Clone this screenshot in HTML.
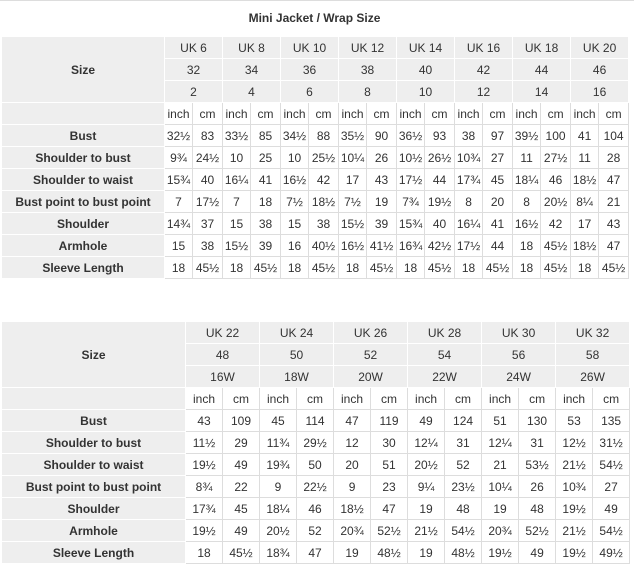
<!DOCTYPE html>
<html><head><meta charset="utf-8"><style>
body{margin:0;background:#fff;font-family:"Liberation Sans",Arial,sans-serif;color:#333;font-size:12px;width:634px;height:568px;position:relative;overflow:hidden}
.topline{position:absolute;left:0;top:0;width:634px;height:1px;background:#ddd}
.title{position:absolute;left:0;top:11px;width:629px;text-align:center;font-weight:bold;font-size:12px}
table{position:absolute;left:1px;border-collapse:collapse;table-layout:fixed}
td{border:1px solid #ddd;padding:0;text-align:center;height:21px;line-height:20px;white-space:nowrap;overflow:hidden;background:#fff}
td.h{background:#eee;border-color:#fff}
td.l{background:#eee;font-weight:bold;border-color:#fff}
#t1{top:36px;width:628px}
#t2{top:321px;width:628px}
</style></head><body>
<div class="topline"></div>
<div class="title">Mini Jacket / Wrap Size</div>
<table id="t1">
<colgroup><col style="width:163px"><col style="width:28px"><col style="width:30px"><col style="width:28px"><col style="width:30px"><col style="width:28px"><col style="width:30px"><col style="width:28px"><col style="width:30px"><col style="width:28px"><col style="width:30px"><col style="width:28px"><col style="width:30px"><col style="width:28px"><col style="width:30px"><col style="width:28px"><col style="width:30px"></colgroup>
<tr><td class="l" rowspan="3">Size</td><td class="h" colspan="2">UK 6</td><td class="h" colspan="2">UK 8</td><td class="h" colspan="2">UK 10</td><td class="h" colspan="2">UK 12</td><td class="h" colspan="2">UK 14</td><td class="h" colspan="2">UK 16</td><td class="h" colspan="2">UK 18</td><td class="h" colspan="2">UK 20</td></tr>
<tr><td class="h" colspan="2">32</td><td class="h" colspan="2">34</td><td class="h" colspan="2">36</td><td class="h" colspan="2">38</td><td class="h" colspan="2">40</td><td class="h" colspan="2">42</td><td class="h" colspan="2">44</td><td class="h" colspan="2">46</td></tr>
<tr><td class="h" colspan="2">2</td><td class="h" colspan="2">4</td><td class="h" colspan="2">6</td><td class="h" colspan="2">8</td><td class="h" colspan="2">10</td><td class="h" colspan="2">12</td><td class="h" colspan="2">14</td><td class="h" colspan="2">16</td></tr>
<tr><td class="l"></td><td>inch</td><td>cm</td><td>inch</td><td>cm</td><td>inch</td><td>cm</td><td>inch</td><td>cm</td><td>inch</td><td>cm</td><td>inch</td><td>cm</td><td>inch</td><td>cm</td><td>inch</td><td>cm</td></tr>
<tr><td class="l">Bust</td><td>32½</td><td>83</td><td>33½</td><td>85</td><td>34½</td><td>88</td><td>35½</td><td>90</td><td>36½</td><td>93</td><td>38</td><td>97</td><td>39½</td><td>100</td><td>41</td><td>104</td></tr>
<tr><td class="l">Shoulder to bust</td><td>9¾</td><td>24½</td><td>10</td><td>25</td><td>10</td><td>25½</td><td>10¼</td><td>26</td><td>10½</td><td>26½</td><td>10¾</td><td>27</td><td>11</td><td>27½</td><td>11</td><td>28</td></tr>
<tr><td class="l">Shoulder to waist</td><td>15¾</td><td>40</td><td>16¼</td><td>41</td><td>16½</td><td>42</td><td>17</td><td>43</td><td>17½</td><td>44</td><td>17¾</td><td>45</td><td>18¼</td><td>46</td><td>18½</td><td>47</td></tr>
<tr><td class="l">Bust point to bust point</td><td>7</td><td>17½</td><td>7</td><td>18</td><td>7½</td><td>18½</td><td>7½</td><td>19</td><td>7¾</td><td>19½</td><td>8</td><td>20</td><td>8</td><td>20½</td><td>8¼</td><td>21</td></tr>
<tr><td class="l">Shoulder</td><td>14¾</td><td>37</td><td>15</td><td>38</td><td>15</td><td>38</td><td>15½</td><td>39</td><td>15¾</td><td>40</td><td>16¼</td><td>41</td><td>16½</td><td>42</td><td>17</td><td>43</td></tr>
<tr><td class="l">Armhole</td><td>15</td><td>38</td><td>15½</td><td>39</td><td>16</td><td>40½</td><td>16½</td><td>41½</td><td>16¾</td><td>42½</td><td>17½</td><td>44</td><td>18</td><td>45½</td><td>18½</td><td>47</td></tr>
<tr><td class="l">Sleeve Length</td><td>18</td><td>45½</td><td>18</td><td>45½</td><td>18</td><td>45½</td><td>18</td><td>45½</td><td>18</td><td>45½</td><td>18</td><td>45½</td><td>18</td><td>45½</td><td>18</td><td>45½</td></tr>
</table>
<table id="t2">
<colgroup><col style="width:184px"><col style="width:37px"><col style="width:37px"><col style="width:37px"><col style="width:37px"><col style="width:37px"><col style="width:37px"><col style="width:37px"><col style="width:37px"><col style="width:37px"><col style="width:37px"><col style="width:37px"><col style="width:37px"></colgroup>
<tr><td class="l" rowspan="3">Size</td><td class="h" colspan="2">UK 22</td><td class="h" colspan="2">UK 24</td><td class="h" colspan="2">UK 26</td><td class="h" colspan="2">UK 28</td><td class="h" colspan="2">UK 30</td><td class="h" colspan="2">UK 32</td></tr>
<tr><td class="h" colspan="2">48</td><td class="h" colspan="2">50</td><td class="h" colspan="2">52</td><td class="h" colspan="2">54</td><td class="h" colspan="2">56</td><td class="h" colspan="2">58</td></tr>
<tr><td class="h" colspan="2">16W</td><td class="h" colspan="2">18W</td><td class="h" colspan="2">20W</td><td class="h" colspan="2">22W</td><td class="h" colspan="2">24W</td><td class="h" colspan="2">26W</td></tr>
<tr><td class="l"></td><td>inch</td><td>cm</td><td>inch</td><td>cm</td><td>inch</td><td>cm</td><td>inch</td><td>cm</td><td>inch</td><td>cm</td><td>inch</td><td>cm</td></tr>
<tr><td class="l">Bust</td><td>43</td><td>109</td><td>45</td><td>114</td><td>47</td><td>119</td><td>49</td><td>124</td><td>51</td><td>130</td><td>53</td><td>135</td></tr>
<tr><td class="l">Shoulder to bust</td><td>11½</td><td>29</td><td>11¾</td><td>29½</td><td>12</td><td>30</td><td>12¼</td><td>31</td><td>12¼</td><td>31</td><td>12½</td><td>31½</td></tr>
<tr><td class="l">Shoulder to waist</td><td>19½</td><td>49</td><td>19¾</td><td>50</td><td>20</td><td>51</td><td>20½</td><td>52</td><td>21</td><td>53½</td><td>21½</td><td>54½</td></tr>
<tr><td class="l">Bust point to bust point</td><td>8¾</td><td>22</td><td>9</td><td>22½</td><td>9</td><td>23</td><td>9¼</td><td>23½</td><td>10¼</td><td>26</td><td>10¾</td><td>27</td></tr>
<tr><td class="l">Shoulder</td><td>17¾</td><td>45</td><td>18¼</td><td>46</td><td>18½</td><td>47</td><td>19</td><td>48</td><td>19</td><td>48</td><td>19½</td><td>49</td></tr>
<tr><td class="l">Armhole</td><td>19½</td><td>49</td><td>20½</td><td>52</td><td>20¾</td><td>52½</td><td>21½</td><td>54½</td><td>20¾</td><td>52½</td><td>21½</td><td>54½</td></tr>
<tr><td class="l">Sleeve Length</td><td>18</td><td>45½</td><td>18¾</td><td>47</td><td>19</td><td>48½</td><td>19</td><td>48½</td><td>19½</td><td>49</td><td>19½</td><td>49½</td></tr>
</table>
</body></html>
